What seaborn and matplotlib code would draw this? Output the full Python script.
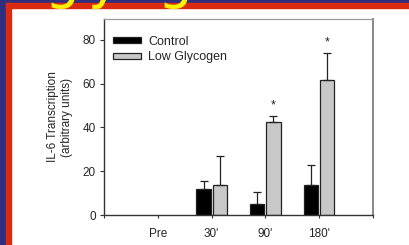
import numpy as np
import pandas as pd
import matplotlib
matplotlib.use("Agg")
import matplotlib.pyplot as plt
from matplotlib.patches import Rectangle
import seaborn as sns

# data
categories = ["Pre", "30'", "90'", "180'"]
control = [np.nan, 11.7, 5.2, 13.7]
control_err = [np.nan, 4.0, 5.5, 9.2]
low_glycogen = [np.nan, 13.6, 42.7, 61.6]
low_glycogen_err = [np.nan, 13.5, 2.6, 12.6]
significant = [False, False, True, True]  # star above low glycogen bar

groups = ["Control", "Low Glycogen"]

df = pd.DataFrame({
    "time": categories * 2,
    "group": [groups[0]] * 4 + [groups[1]] * 4,
    "value": control + low_glycogen,
})
errs = {groups[0]: control_err, groups[1]: low_glycogen_err}

sns.set_style("white")
plt.rcParams["font.family"] = ["Liberation Sans", "DejaVu Sans"]

W, H = 410, 245
fig = plt.figure(figsize=(W / 100, H / 100), dpi=100, facecolor="white")

# slide decoration: blue/red border on top and left
deco = [
    (0, H - 3, W, 3, "#2E2F7E"),
    (0, 0, 6, H, "#2E2F7E"),
    (6, H - 8, W - 6, 5, "#DA2A10"),
    (6, 0, 5, H - 3, "#DA2A10"),
]
for x, y, w, h, c in deco:
    fig.patches.append(Rectangle((x / W, y / H), w / W, h / H,
                                 transform=fig.transFigure, color=c, zorder=0))
# descenders of the slide title, which sits above the picture
for ch, xp in [("g", 63), ("y", 104), ("g", 176)]:
    fig.text(xp / W, 1 + 3 / H, ch, color="#FFF200", fontsize=40,
             ha="center", va="baseline", family="DejaVu Sans", zorder=5)

ax = fig.add_axes([104 / W, (H - 215) / H, 269 / W, 196 / H])
ax.set_facecolor("white")

sns.barplot(data=df, x="time", y="value", hue="group", order=categories,
            hue_order=groups, palette=["#000000", "#C8C8C8"],
            width=0.6, gap=0.12, errorbar=None, edgecolor="#222222",
            linewidth=0.9, ax=ax)

for container, g in zip(ax.containers, groups):
    for bar in container:
        h = bar.get_height()
        if np.isnan(h):
            continue
        xc = bar.get_x() + bar.get_width() / 2
        i = int(round(xc))
        ax.errorbar(xc, h, yerr=[[0], [errs[g][i]]], fmt="none",
                    ecolor="#222222", elinewidth=0.9, capsize=2.6,
                    capthick=0.9, zorder=1)
        if g == groups[1] and significant[i]:
            ax.annotate("*", (xc, h + errs[g][i]), xytext=(0, 3),
                        textcoords="offset points", ha="center",
                        va="bottom", fontsize=9, color="#222222")

ax.set_xlim(-1, 4)
ax.set_ylim(0, 89.6)
ax.set_xticks(range(-1, 5))
ax.set_xticklabels([""] + categories + [""])
ax.set_yticks([0, 20, 40, 60, 80])
ax.set_xlabel("")
ax.set_ylabel("IL-6 Transcription\n(arbitrary units)", fontsize=8.5,
              labelpad=7, linespacing=1.15)
ax.tick_params(axis="y", direction="out", length=3, width=0.8, pad=3,
               labelsize=8.5, left=True, color="#333333")
ax.tick_params(axis="x", direction="out", length=2.5, width=0.8, pad=7,
               labelsize=8.5, bottom=True, color="#333333")

for side in ["left", "bottom"]:
    ax.spines[side].set_color("#333333")
    ax.spines[side].set_linewidth(1.0)
ax.spines["top"].set_color("#9A9A9A")
ax.spines["top"].set_linewidth(0.9)
ax.spines["right"].set_color("#888888")
ax.spines["right"].set_linewidth(1.4)

ax.legend(loc="upper left", bbox_to_anchor=(0.0, 0.96), frameon=False,
          fontsize=9, handlelength=2.3, handleheight=0.45,
          handletextpad=0.55, labelspacing=0.3, borderaxespad=0.3)

fig.savefig("out.png", dpi=100, facecolor="white")
